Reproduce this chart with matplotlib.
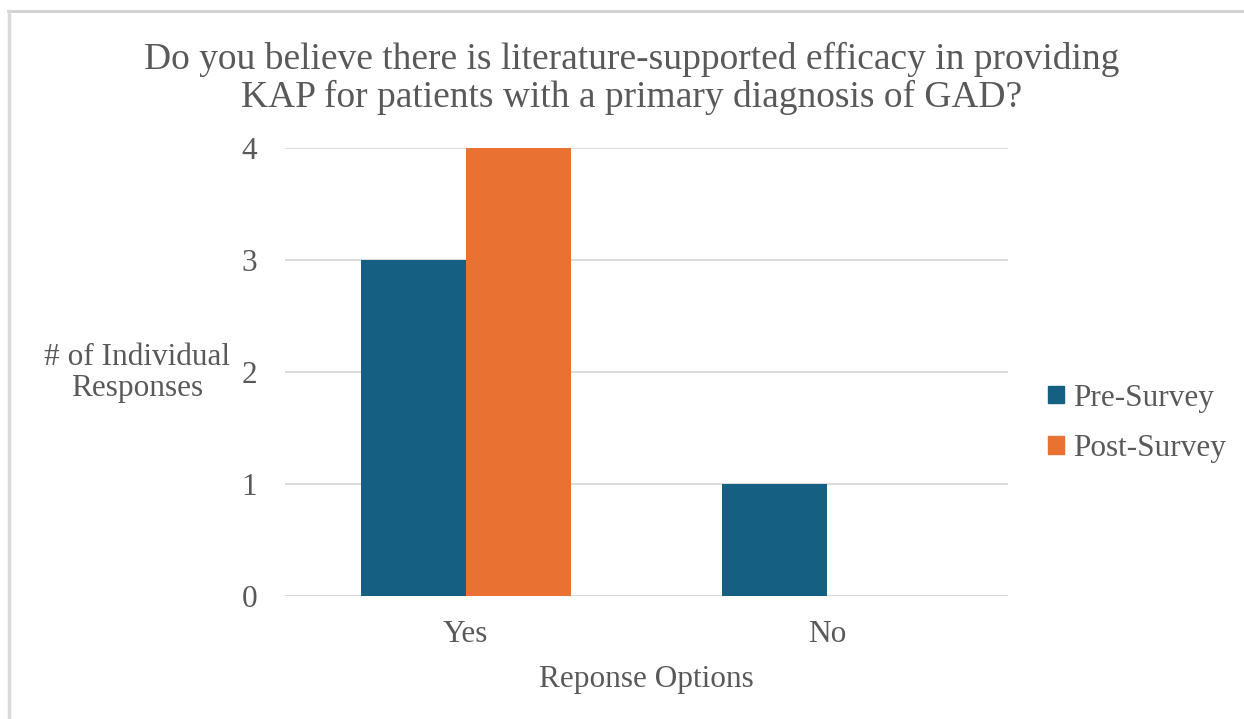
import numpy as np
import matplotlib.pyplot as plt
from matplotlib.lines import Line2D
from matplotlib.patches import Patch

plt.rcParams['font.family'] = ['Liberation Serif', 'DejaVu Serif']

categories = ['Yes', 'No']
pre_survey = [3, 1]
post_survey = [4, 0]
y_ticks = [0, 1, 2, 3, 4]

text_color = '#595959'
blue = '#156082'
orange = '#E97132'
grid_color = '#D9D9D9'
label_size = 22.5

fig = plt.figure(figsize=(12.44, 7.19), dpi=100)
ax = fig.add_axes([0.2291, 0.1711, 0.5812, 0.6231])

x = np.arange(len(categories))
width = 0.29
ax.bar(x - width / 2, pre_survey, width, color=blue, label='Pre-Survey', zorder=3)
ax.bar(x + width / 2, post_survey, width, color=orange, label='Post-Survey', zorder=3)

ax.set_xlim(-0.5, len(categories) - 0.5)
ax.set_ylim(0, 4)
ax.set_yticks(y_ticks)
ax.set_xticks(x)
ax.set_xticklabels(categories)
ax.grid(axis='y', color=grid_color, linewidth=1.3, zorder=0)
ax.tick_params(axis='both', length=0, labelsize=label_size, colors=text_color)
ax.tick_params(axis='y', pad=20)
ax.tick_params(axis='x', pad=17)
for spine in ax.spines.values():
    spine.set_visible(False)
ax.axhline(0, color=grid_color, linewidth=1.3, zorder=2)

ax.set_xlabel('Reponse Options', fontsize=label_size, color=text_color, labelpad=12)

fig.text(0.110, 0.481, '# of Individual\nResponses', fontsize=label_size, color=text_color,
         ha='center', va='center', linespacing=1.1)

fig.text(0.508, 0.891, 'Do you believe there is literature-supported efficacy in providing\n'
         'KAP for patients with a primary diagnosis of GAD?',
         fontsize=27, color=text_color, ha='center', va='center', linespacing=1.13)

handles = [Patch(color=blue), Patch(color=orange)]
fig.legend(handles, ['Pre-Survey', 'Post-Survey'], loc='center left',
           bbox_to_anchor=(0.830, 0.411), frameon=False, fontsize=label_size,
           labelcolor=text_color, handlelength=0.5, handleheight=0.5,
           handletextpad=0.3, labelspacing=0.7, borderpad=0)

# outer frame lines (top and left edges)
fig.add_artist(Line2D([8 / 1244, 1.0], [1 - 11 / 719, 1 - 11 / 719],
                      transform=fig.transFigure, color='#CFCFCF', linewidth=2))
fig.add_artist(Line2D([9 / 1244, 9 / 1244], [0, 1 - 11 / 719],
                      transform=fig.transFigure, color='#D9D9D9', linewidth=2.5))

fig.savefig('out.png', dpi=100)
